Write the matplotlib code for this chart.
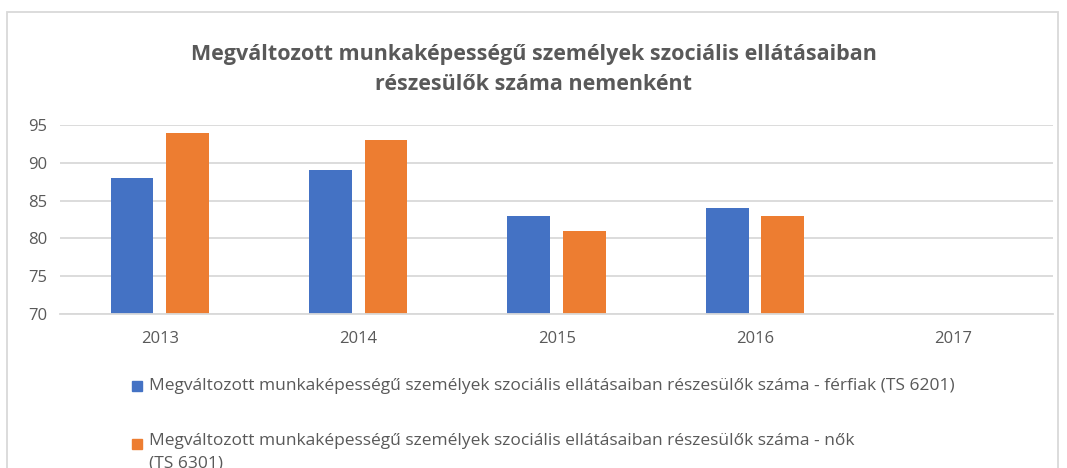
import numpy as np
import matplotlib.pyplot as plt
from matplotlib.patches import Rectangle

# adatok
evek = ["2013", "2014", "2015", "2016", "2017"]
ferfiak = [88, 89, 83, 84, np.nan]
nok = [94, 93, 81, 83, np.nan]
cim = "Megváltozott munkaképességű személyek szociális ellátásaiban\nrészesülők száma nemenként"
nev_ferfi = "Megváltozott munkaképességű személyek szociális ellátásaiban részesülők száma - férfiak (TS 6201)"
nev_no = "Megváltozott munkaképességű személyek szociális ellátásaiban részesülők száma - nők\n(TS 6301)"

kek = "#4472C4"
narancs = "#ED7D31"
szurke = "#595959"
racs = "#D9D9D9"

plt.rcParams['font.family'] = ['Open Sans', 'DejaVu Sans']

fig = plt.figure(figsize=(10.67, 4.68), dpi=100)
ax = fig.add_axes([0.0567, 0.329, 0.930, 0.404])

x = np.arange(len(evek))
w = 0.216
ax.bar(x - 0.14, ferfiak, w, color=kek)
ax.bar(x + 0.14, nok, w, color=narancs)

ax.set_xlim(-0.5, len(evek) - 0.5)
ax.set_ylim(70, 95)
ax.set_yticks([70, 75, 80, 85, 90, 95])
ax.set_xticks(x)
ax.set_xticklabels(evek)
ax.yaxis.grid(True, color=racs, lw=1.3)
ax.set_axisbelow(True)
for s in ["top", "right", "left"]:
    ax.spines[s].set_visible(False)
ax.spines["bottom"].set_color(racs)
ax.spines["bottom"].set_linewidth(1.3)
ax.tick_params(length=0, labelsize=12, labelcolor=szurke)
ax.tick_params(axis="y", pad=23)
ax.tick_params(axis="x", pad=12)
for t in ax.get_yticklabels():
    t.set_horizontalalignment("left")

fig.text(0.5, 0.852, cim, ha="center", va="center", fontsize=15.5, fontweight="bold",
         color=szurke, linespacing=1.55)

# jelmagyarazat
fig.patches.append(Rectangle((132 / 1067, 1 - 391 / 468), 10 / 1067, 10 / 468,
                             transform=fig.transFigure, color=kek))
fig.text(149 / 1067, 1 - 386 / 468, nev_ferfi, ha="left", va="center", fontsize=12.5, color=szurke)
fig.patches.append(Rectangle((132 / 1067, 1 - 449 / 468), 10 / 1067, 10 / 468,
                             transform=fig.transFigure, color=narancs))
fig.text(149 / 1067, 1 - 433 / 468, nev_no, ha="left", va="top", fontsize=12.5, color=szurke,
         linespacing=1.55)

# keret
fig.patches.append(Rectangle((7 / 1067, -0.05), 1051 / 1067, 1.05 - 12 / 468,
                             transform=fig.transFigure, fill=False, edgecolor=racs, lw=1.3))

fig.savefig("out.png", dpi=100)
